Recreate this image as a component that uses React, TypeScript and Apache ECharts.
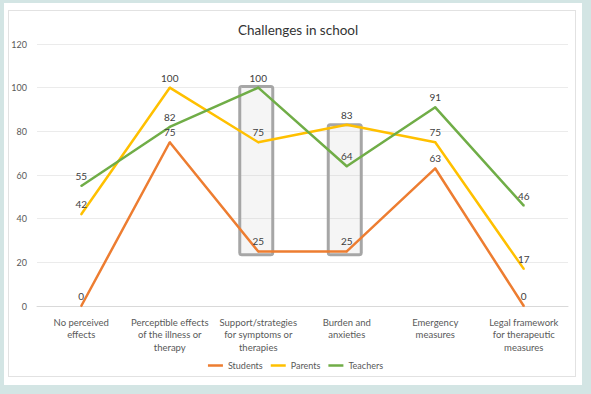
import React, { useEffect, useRef } from "react";
import * as echarts from "echarts";

const categories = [
  "No perceived\neffects",
  "Perceptible effects\nof the illness or\ntherapy",
  "Support/strategies\nfor symptoms or\ntherapies",
  "Burden and\nanxieties",
  "Emergency\nmeasures",
  "Legal framework\nfor therapeutic\nmeasures",
];
const students = [0, 75, 25, 25, 63, 0];
const parents = [42, 100, 75, 83, 75, 17];
const teachers = [55, 82, 100, 64, 91, 46];
const yTicks = [0, 20, 40, 60, 80, 100, 120];

// highlighted boxes (annotation): category index, value range
const boxCats = [2, 3];
const boxTop = [100.5, 83];
const boxBottom = [23.5, 23.5];

const FONT = "Lato, 'Open Sans', sans-serif";

export default function App() {
  const ref = useRef<HTMLDivElement>(null);
  useEffect(() => {
    if (!ref.current) return;
    const chart = echarts.init(ref.current, undefined, { renderer: "svg" });
    const mkSeries = (name: string, data: number[], color: string) => ({
      name,
      type: "line",
      data,
      symbol: "circle",
      symbolSize: 2,
      showSymbol: true,
      lineStyle: { color, width: 2.5 },
      itemStyle: { color },
      label: {
        show: true,
        position: "top",
        distance: 4,
        color: "#404040",
        fontSize: 10,
        fontFamily: FONT,
        textBorderWidth: 0,
        textBorderColor: "transparent",
      },
      emphasis: { disabled: true },
      z: 3,
    });
    chart.setOption({
      animation: false,
      backgroundColor: "transparent",
      title: {
        text: "Challenges in school",
        left: 233,
        top: 18,
        textStyle: { fontSize: 13.5, fontWeight: "normal", color: "#333333", fontFamily: FONT },
      },
      legend: {
        bottom: 19,
        left: "center",
        icon: "rect",
        itemWidth: 15,
        itemHeight: 2.5,
        itemGap: 8,
        textStyle: { fontSize: 9, color: "#595959", fontFamily: FONT },
        data: ["Students", "Parents", "Teachers"],
      },
      grid: { left: 37, right: 23, top: 44, bottom: 88, containLabel: false },
      xAxis: {
        type: "category",
        data: categories,
        boundaryGap: true,
        axisLine: { lineStyle: { color: "#d9d9d9" } },
        axisTick: { show: false },
        axisLabel: {
          interval: 0,
          color: "#595959",
          fontSize: 9.5,
          lineHeight: 12.5,
          margin: 10,
          fontFamily: FONT,
        },
      },
      yAxis: {
        type: "value",
        min: yTicks[0],
        max: yTicks[yTicks.length - 1],
        interval: 20,
        axisLine: { show: false },
        axisTick: { show: false },
        splitLine: { lineStyle: { color: "#ebebeb" } },
        axisLabel: { color: "#595959", fontSize: 9, margin: 10, fontFamily: FONT },
      },
      series: [
        mkSeries("Students", students, "#ED7D31"),
        mkSeries("Parents", parents, "#FFC000"),
        mkSeries("Teachers", teachers, "#70AD47"),
      ],
    });
    const boxes = boxCats.map((ci, i) => {
      const pTop = chart.convertToPixel({ xAxisIndex: 0, yAxisIndex: 0 }, [ci, boxTop[i]]) as number[];
      const pBot = chart.convertToPixel({ xAxisIndex: 0, yAxisIndex: 0 }, [ci, boxBottom[i]]) as number[];
      const w = 33;
      return {
        type: "rect",
        z: 1,
        shape: { x: pTop[0] - 2 - w / 2, y: pTop[1], width: w, height: pBot[1] - pTop[1], r: 2 },
        style: { fill: "rgba(200,200,200,0.18)", stroke: "#a6a6a6", lineWidth: 3 },
      };
    });
    chart.setOption({ graphic: boxes });
    return () => chart.dispose();
  }, []);
  return (
    <div style={{ position: "fixed", left: 0, top: 0, width: 591, height: 394, background: "#d3e5e4" }}>
      <div style={{ position: "absolute", left: 4, top: 3, width: 578, height: 382, background: "#ffffff" }} />
      <div
        style={{
          position: "absolute",
          left: 8,
          top: 10,
          width: 568,
          height: 367,
          border: "1px solid #e2e2e2",
          boxSizing: "border-box",
        }}
      />
      <div ref={ref} style={{ position: "absolute", left: 0, top: 0, width: 591, height: 394 }} />
    </div>
  );
}
